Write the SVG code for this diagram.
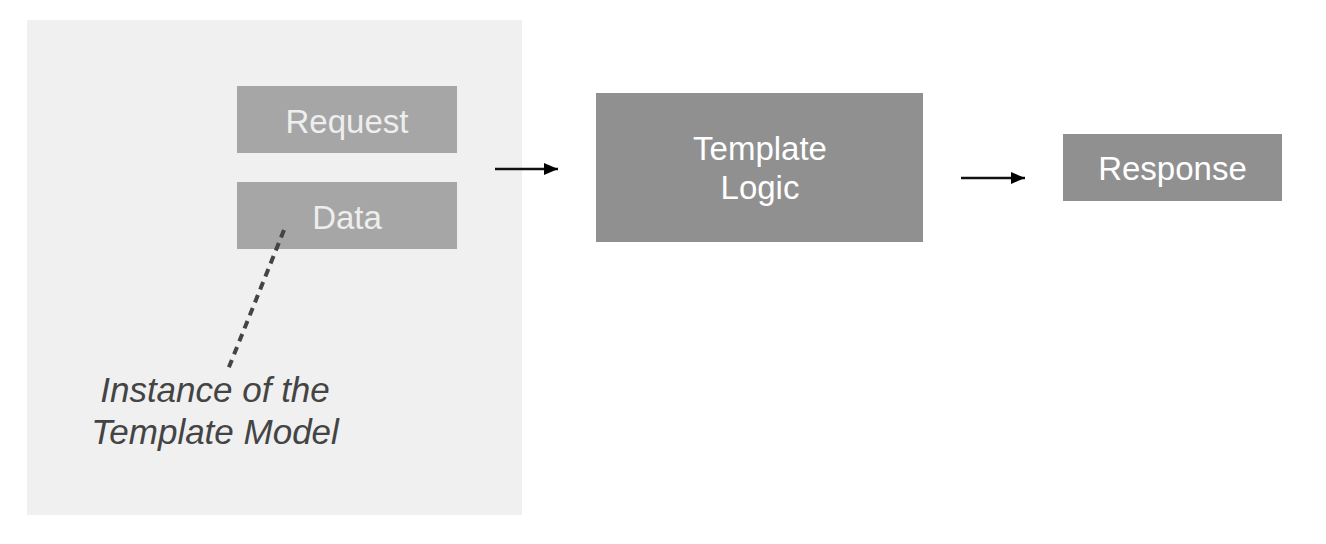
<svg xmlns="http://www.w3.org/2000/svg" width="1326" height="544" viewBox="0 0 1326 544">
  <defs>
    <style>
      .lbl { font-family: "Liberation Sans", Arial, Helvetica, sans-serif; font-size: 33px; text-anchor: middle; }
      .light { fill: #eeeeee; }
      .white { fill: #ffffff; }
      .note { font-family: "Liberation Sans", Arial, Helvetica, sans-serif; font-size: 35px; font-style: italic; fill: #444444; text-anchor: middle; }
      .box-a { fill: #a6a6a6; }
      .box-b { fill: #909090; }
      .arrow { stroke: #111111; stroke-width: 2.6; fill: none; }
    </style>
    <marker id="ah" viewBox="0 0 14 12" refX="14" refY="6" markerWidth="14" markerHeight="12" markerUnits="userSpaceOnUse" orient="auto">
      <path d="M0,0 L14,6 L0,12 Z" fill="#000000"/>
    </marker>
  </defs>

  <rect width="1326" height="544" fill="#ffffff"/>

  <g id="container">
    <rect x="27" y="20" width="495" height="495" fill="#f0f0f0"/>
  </g>

  <g id="request">
    <rect class="box-a" x="237" y="86" width="220" height="67"/>
    <text class="lbl light" x="347" y="133">Request</text>
  </g>

  <g id="data">
    <rect class="box-a" x="237" y="182" width="220" height="67"/>
    <text class="lbl light" x="347" y="229">Data</text>
  </g>

  <g id="template-logic">
    <rect class="box-b" x="596" y="93" width="327" height="149"/>
    <text class="lbl white" x="760" y="160">Template</text>
    <text class="lbl white" x="760" y="199">Logic</text>
  </g>

  <g id="response">
    <rect class="box-b" x="1063" y="134" width="219" height="67"/>
    <text class="lbl white" x="1172.5" y="180">Response</text>
  </g>

  <g id="note">
    <text class="note" x="215" y="402">Instance of the</text>
    <text class="note" x="215" y="444">Template Model</text>
  </g>

  <g id="connectors">
    <line class="arrow" x1="495" y1="169" x2="558" y2="169" marker-end="url(#ah)"/>
    <line class="arrow" x1="961" y1="178" x2="1025" y2="178" marker-end="url(#ah)"/>
    <line x1="284" y1="230" x2="227" y2="372" stroke="#444444" stroke-width="4" stroke-dasharray="8 6"/>
  </g>
</svg>
